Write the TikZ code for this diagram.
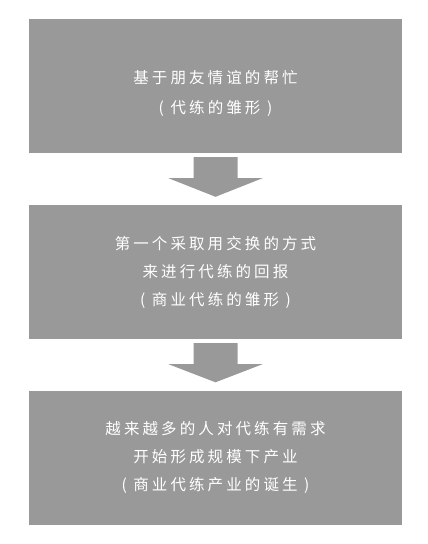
\documentclass[tikz,border=0pt]{standalone}
\usepackage{fontspec}
\newfontfamily\cjk[LetterSpace=20]{Noto Sans CJK SC}
\usetikzlibrary{calc}
\definecolor{boxgray}{HTML}{999999}
\tikzset{
  stagebox/.style={fill=boxgray, draw=none, minimum width=373pt, minimum height=134pt, inner sep=0pt},
  stagetext/.style={text=white, align=center, font=\cjk\fontsize{15.5}{28}\selectfont, inner sep=0pt},
  flowarrow/.style={fill=boxgray, draw=none}
}
\newcommand{\flowarr}[2]{%
  \path[flowarrow]
    ($(#1.south)+(-22,4)$) -- ($(#1.south)+(22,4)$) --
    ($(#1.south)+(22,25)$) -- ($(#1.south)+(47,25)$) --
    ($(#2.north)+(0,-8)$) --
    ($(#1.south)+(-47,25)$) -- ($(#1.south)+(-22,25)$) -- cycle;}
\begin{document}
\begin{tikzpicture}[x=1pt,y=-1pt]
\useasboundingbox (0,0) rectangle (428,544);
\node[stagebox] (b1) at (215.5,86) {};
\node[stagebox] (b2) at (215.5,272) {};
\node[stagebox] (b3) at (215.5,457.5) {};
\node[stagetext, font=\cjk\fontsize{15.5}{30}\selectfont] (t1) at (215.5,93) {基于朋友情谊的帮忙\\( 代练的雏形 )};
\node[stagetext] (t2) at (215.5,272.5) {第一个采取用交换的方式\\来进行代练的回报\\( 商业代练的雏形 )};
\node[stagetext] (t3) at (215.5,457.5) {越来越多的人对代练有需求\\开始形成规模下产业\\( 商业代练产业的诞生 )};
\flowarr{b1}{b2}
\flowarr{b2}{b3}
\end{tikzpicture}
\end{document}
